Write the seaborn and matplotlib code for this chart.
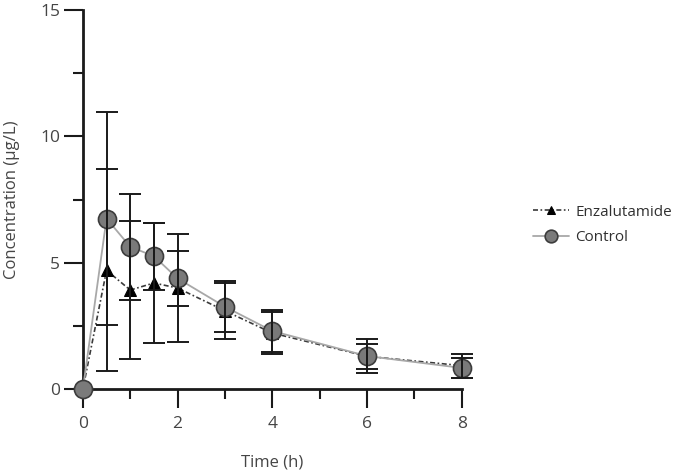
import matplotlib
matplotlib.use("Agg")
import matplotlib.pyplot as plt
from matplotlib.ticker import MultipleLocator
import seaborn as sns
import numpy as np
import pandas as pd

# sampling times and mean +/- SD
time_h = [0, 0.5, 1, 1.5, 2, 3, 4, 6, 8]
enza_mean = [0, 4.70, 3.92, 4.20, 4.00, 3.10, 2.22, 1.30, 0.93]
enza_sd = [0, 4.00, 2.74, 2.38, 2.13, 1.10, 0.82, 0.50, 0.48]
ctrl_mean = [0, 6.75, 5.63, 5.26, 4.38, 3.26, 2.30, 1.31, 0.84]
ctrl_sd = [0, 4.20, 2.09, 1.32, 1.09, 1.00, 0.85, 0.69, 0.40]

sns.set_style("ticks")
plt.rcParams['font.family'] = ['Open Sans', 'DejaVu Sans']

df_enza = pd.DataFrame({'time': time_h, 'conc': enza_mean})
df_ctrl = pd.DataFrame({'time': time_h, 'conc': ctrl_mean})

fig = plt.figure(figsize=(6.85, 4.74), dpi=100)
ax = fig.add_axes([0.121, 0.179, 0.553, 0.800])

sns.lineplot(data=df_enza, x='time', y='conc', ax=ax, color='#3a3a3a',
             linestyle=(0, (3, 1.5, 1, 1.5)), linewidth=1.2, marker='^',
             markersize=9, markerfacecolor='black', markeredgecolor='black',
             label='Enzalutamide', clip_on=False, zorder=3)
sns.lineplot(data=df_ctrl, x='time', y='conc', ax=ax, color='#a8a8a8',
             linewidth=1.3, marker='o', markersize=13,
             markerfacecolor='#7a7a7a', markeredgecolor='#3c3c3c',
             markeredgewidth=1.2, label='Control', clip_on=False, zorder=4)
handles = list(ax.lines[:2])

# error bars (SD), drawn over the markers
for m, s in [(enza_mean, enza_sd), (ctrl_mean, ctrl_sd)]:
    ax.errorbar(time_h[1:], m[1:], yerr=s[1:], fmt='none', ecolor='#1a1a1a',
                elinewidth=1.4, capsize=8, capthick=1.4, zorder=5, clip_on=False)

ax.set_xlim(0, 8)
ax.set_ylim(0, 15)
ax.xaxis.set_major_locator(MultipleLocator(2))
ax.xaxis.set_minor_locator(MultipleLocator(1))
ax.yaxis.set_major_locator(MultipleLocator(5))
ax.yaxis.set_minor_locator(MultipleLocator(2.5))
sns.despine(ax=ax)
for sp in ['left', 'bottom']:
    ax.spines[sp].set_linewidth(2)
    ax.spines[sp].set_color('#1a1a1a')
ax.tick_params(which='major', direction='out', length=14, width=1.5,
               color='#1a1a1a', labelsize=12.5, labelcolor='#454545')
ax.tick_params(axis='x', which='major', pad=5)
ax.tick_params(axis='y', which='major', pad=2.5)
ax.tick_params(which='minor', direction='out', length=7, width=1.5,
               color='#1a1a1a')

ax.set_xlabel('Time (h)', fontsize=12, color='#454545')
ax.set_ylabel('Concentration (µg/L)', fontsize=12, color='#454545')
ax.xaxis.set_label_coords(0.5, -0.172)
ax.yaxis.set_label_coords(-0.165, 0.5)

ax.legend(handles=handles, labels=['Enzalutamide', 'Control'], frameon=False,
          loc='center left', bbox_to_anchor=(0.762, 0.525),
          bbox_transform=fig.transFigure, fontsize=11, markerscale=0.7,
          handlelength=2.4, handletextpad=0.4, labelspacing=0.7,
          borderpad=0.2, labelcolor='#303030')

fig.savefig('out.png', dpi=100)
